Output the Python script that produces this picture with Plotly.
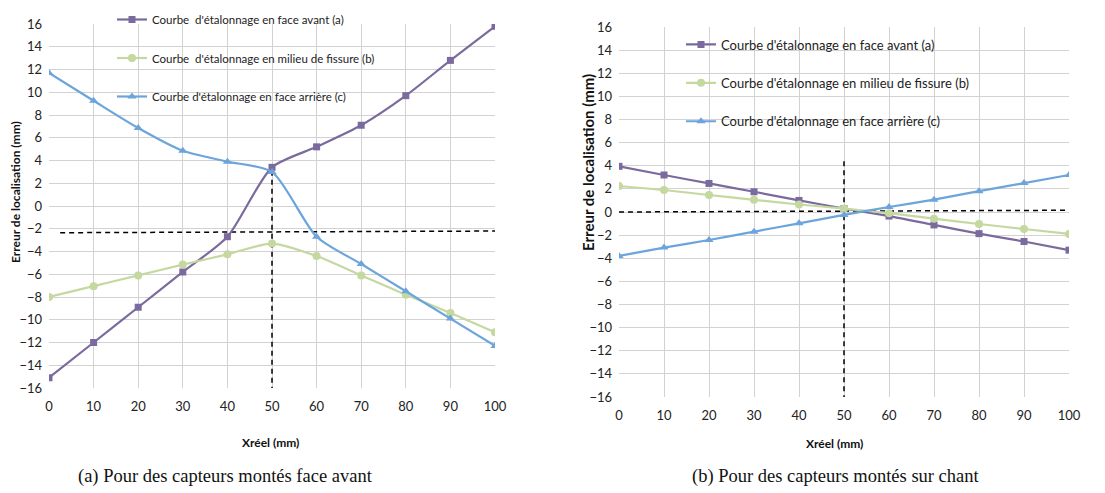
import plotly.graph_objects as go

# page body has an 8px margin: figure is drawn from (8, 8) in the window
OFF = 8
W, H = 1105 - OFF, 493 - OFF

# ---------------- data ----------------
x_reel = [0, 10, 20, 30, 40, 50, 60, 70, 80, 90, 100]

# (a) capteurs montés face avant
a_face_avant = [-15.1, -12.0, -8.9, -5.8, -2.7, 3.4, 5.2, 7.1, 9.7, 12.8, 15.8]
a_milieu = [-8.0, -7.05, -6.1, -5.15, -4.25, -3.3, -4.4, -6.1, -7.8, -9.4, -11.1]
a_face_arriere = [11.7, 9.25, 6.85, 4.85, 3.9, 3.0, -2.7, -5.1, -7.5, -9.9, -12.3]

# (b) capteurs montés sur chant
b_face_avant = [3.95, 3.2, 2.47, 1.75, 1.0, 0.3, -0.35, -1.12, -1.87, -2.55, -3.3]
b_milieu = [2.25, 1.9, 1.47, 1.05, 0.65, 0.3, -0.1, -0.58, -1.04, -1.47, -1.9]
b_face_arriere = [-3.8, -3.08, -2.42, -1.7, -0.98, -0.25, 0.43, 1.07, 1.8, 2.5, 3.2]

# dashed reference lines (x pairs, y pairs)
a_ref_h_x, a_ref_h_y = [2.5, 100], [-2.35, -2.2]
a_ref_v_x, a_ref_v_y = [50, 50], [3.1, -16]
b_ref_h_x, b_ref_h_y = [0, 100], [0.0, 0.15]
b_ref_v_x, b_ref_v_y = [50, 50], [4.4, -16]

series_names = [
    ["Courbe  d'étalonnage en face avant (a)",
     "Courbe  d'étalonnage en milieu de fissure (b)",
     "Courbe d'étalonnage en face arrière (c)"],
    ["Courbe d'étalonnage en face avant (a)",
     "Courbe d'étalonnage en milieu de fissure (b)",
     "Courbe d'étalonnage en face arrière (c)"],
]
x_ticks = [0, 10, 20, 30, 40, 50, 60, 70, 80, 90, 100]
y_ticks = list(range(-16, 17, 2))
x_title = "Xréel (mm)"
y_title = "Erreur de localisation (mm)"
captions = ["(a) Pour des capteurs montés face avant",
            "(b) Pour des capteurs montés sur chant"]

# ---------------- styles ----------------
colors = ["#7B6A9E", "#C4D8A0", "#6CA4DC"]
symbols = ["square", "circle", "triangle-up"]
msizes = [7, 8, 8]
FONT = "Lato"
GRID = "#D2D2D2"
# white legend backgrounds (axis units: x0, x1, y0, y1) hiding the grid
legend_boxes = [(18.8, 72.4, 8.0, 17), (16.9, 79.1, 6.2, 17)]


def px(x):
    return (x - OFF) / W


def py(y):
    return 1 - (y - OFF) / H


fig = go.Figure()

panels = [
    dict(xa="x", ya="y", legend="legend",
         data=[a_face_avant, a_milieu, a_face_arriere],
         refs=[(a_ref_h_x, a_ref_h_y), (a_ref_v_x, a_ref_v_y)]),
    dict(xa="x2", ya="y2", legend="legend2",
         data=[b_face_avant, b_milieu, b_face_arriere],
         refs=[(b_ref_h_x, b_ref_h_y), (b_ref_v_x, b_ref_v_y)]),
]

for pi, p in enumerate(panels):
    bx0, bx1, by0, by1 = legend_boxes[pi]
    fig.add_shape(type="rect", xref=p["xa"], yref=p["ya"], x0=bx0, x1=bx1, y0=by0, y1=by1,
                  fillcolor="white", line=dict(width=0), layer="below")
    for rx, ry in p["refs"]:
        fig.add_trace(go.Scatter(
            x=rx, y=ry, mode="lines", xaxis=p["xa"], yaxis=p["ya"],
            line=dict(color="black", width=1.5, dash="5px,4px"),
            showlegend=False, hoverinfo="skip"))
    for si, ys in enumerate(p["data"]):
        fig.add_trace(go.Scatter(
            x=x_reel, y=ys, mode="lines+markers",
            name=series_names[pi][si],
            xaxis=p["xa"], yaxis=p["ya"],
            legend=p["legend"], legendgroup=f"p{pi}s{si}",
            line=dict(color=colors[si], width=2.2, shape="spline", smoothing=0.7),
            marker=dict(symbol=symbols[si], size=msizes[si], color=colors[si]),
        ))

axis_common = dict(range=[0, 100], tickvals=x_ticks, showgrid=True, gridcolor=GRID,
                   gridwidth=1, zeroline=False, showline=False, automargin=False,
                   tickfont=dict(family=FONT, size=13, color="#222"),
                   ticklabelstandoff=9, fixedrange=True)
yaxis_common = dict(range=[-16, 16], tickvals=y_ticks, showgrid=True, gridcolor=GRID,
                    gridwidth=1, zeroline=False, showline=False, automargin=False,
                    tickfont=dict(family=FONT, size=13, color="#222"),
                    ticklabelstandoff=6, fixedrange=True)

legend_common = dict(bgcolor="rgba(0,0,0,0)", borderwidth=0, xanchor="left", yanchor="top",
                     itemwidth=30, itemclick=False, itemdoubleclick=False)

fig.update_layout(
    width=W, height=H,
    margin=dict(l=0, r=0, t=0, b=0, autoexpand=False),
    paper_bgcolor="white", plot_bgcolor="white",
    showlegend=True,
    xaxis=dict(domain=[px(49), px(495)], anchor="y", **axis_common),
    yaxis=dict(domain=[py(388), py(24)], anchor="x", **yaxis_common),
    xaxis2=dict(domain=[px(619), px(1069)], anchor="y2", **axis_common),
    yaxis2=dict(domain=[py(397), py(27)], anchor="x2", **yaxis_common),
    legend=dict(x=px(112), y=py(5), tracegroupgap=19.5,
                font=dict(family=FONT, size=11.5, color="#222"), **legend_common),
    legend2=dict(x=px(681), y=py(29.5), tracegroupgap=18.5,
                 font=dict(family=FONT, size=13, color="#222"), **legend_common),
)

annotations = [
    dict(text=f"<b>{y_title}</b>", x=px(15), y=py(192), textangle=-90,
         font=dict(family=FONT, size=12, color="#111")),
    dict(text=f"<b>{y_title}</b>", x=px(588), y=py(163), textangle=-90,
         font=dict(family=FONT, size=15, color="#111")),
    dict(text=f"<b>{x_title}</b>", x=px(270), y=py(442),
         font=dict(family=FONT, size=12, color="#111")),
    dict(text=f"<b>{x_title}</b>", x=px(834), y=py(443),
         font=dict(family=FONT, size=12, color="#111")),
    dict(text=captions[0], x=px(225), y=py(476),
         font=dict(family="Liberation Serif", size=18.5, color="#111")),
    dict(text=captions[1], x=px(836), y=py(476),
         font=dict(family="Liberation Serif", size=18.5, color="#111")),
]
for a in annotations:
    a.update(xref="paper", yref="paper", showarrow=False, xanchor="center", yanchor="middle")
fig.update_layout(annotations=annotations)

fig.write_html("out.html")
